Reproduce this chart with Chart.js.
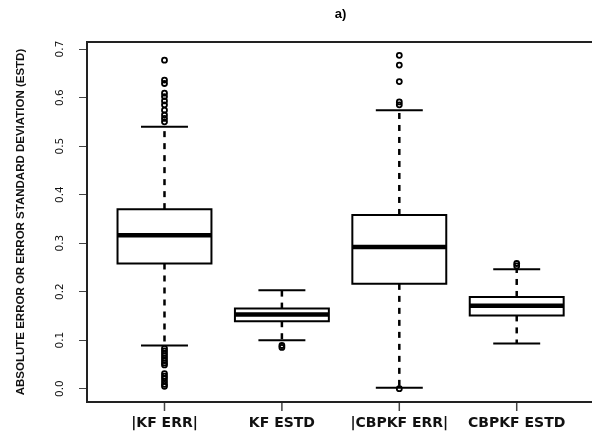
<!DOCTYPE html>
<html>
<head>
<meta charset="utf-8">
<script src="https://cdn.jsdelivr.net/npm/chart.js@4"></script>
<style>
  html, body { margin: 0; padding: 0; background: #fff; overflow: hidden; }
  #wrap { width: 600px; height: 434px; }
</style>
</head>
<body>
<div id="wrap"><canvas id="c" width="600" height="434"></canvas></div>
<script>
// ---- data ----
const categories = ['|KF ERR|', 'KF ESTD', '|CBPKF ERR|', 'CBPKF ESTD'];
const lowerWhisker  = [0.089, 0.100, 0.002, 0.093];
const lowerQuartile = [0.258, 0.139, 0.216, 0.151];
const medians       = [0.316, 0.153, 0.292, 0.171];
const upperQuartile = [0.370, 0.165, 0.358, 0.189];
const upperWhisker  = [0.540, 0.203, 0.574, 0.246];
const outliersKfErr = [0.677, 0.636, 0.629, 0.609, 0.602, 0.593, 0.585, 0.574, 0.564, 0.557, 0.550,
                       0.083, 0.078, 0.073, 0.068, 0.063, 0.058, 0.053, 0.049,
                       0.031, 0.026, 0.021, 0.015, 0.009, 0.005];
const outliersKfEstd = [0.089, 0.085];
const outliersCbpkfErr = [0.687, 0.667, 0.633, 0.591, 0.585, 0.000];
const outliersCbpkfEstd = [0.258, 0.253];
const outlierGroups = [outliersKfErr, outliersKfEstd, outliersCbpkfErr, outliersCbpkfEstd];
const yTickValues = [0.0, 0.1, 0.2, 0.3, 0.4, 0.5, 0.6, 0.7];
const chartTitle = 'a)';
const yAxisTitle = 'ABSOLUTE ERROR OR ERROR STANDARD DEVIATION (ESTD)';

// ---- styles ----
const BOX_HALF = 0.4;
const STAPLE_HALF = 0.2;
const INK = '#000';

Chart.defaults.font.family = '"Liberation Sans", Arial, sans-serif';
Chart.defaults.color = INK;

const datasets = [];

// outliers (drawn on top)
const outlierPts = [];
outlierGroups.forEach((g, i) => g.forEach(v => outlierPts.push({x: i + 1, y: v})));
datasets.push({
  type: 'scatter', data: outlierPts,
  pointStyle: 'circle', pointRadius: 2.5, pointBorderWidth: 1.8,
  pointBorderColor: INK, pointBackgroundColor: 'rgba(0,0,0,0)', showLine: false
});

// medians
categories.forEach((c, i) => {
  const x = i + 1;
  datasets.push({
    type: 'line', data: [{x: x - BOX_HALF, y: medians[i]}, {x: x + BOX_HALF, y: medians[i]}],
    borderColor: INK, borderWidth: 4.5, pointRadius: 0, borderCapStyle: 'butt'
  });
});

// boxes (closed rectangles from Q1 to Q3)
categories.forEach((c, i) => {
  const x = i + 1;
  const a = x - BOX_HALF, b = x + BOX_HALF;
  datasets.push({
    type: 'line',
    data: [{x: a, y: lowerQuartile[i]}, {x: b, y: lowerQuartile[i]}, {x: b, y: upperQuartile[i]},
           {x: a, y: upperQuartile[i]}, {x: a, y: lowerQuartile[i]}, {x: b, y: lowerQuartile[i]}],
    borderColor: INK, borderWidth: 2, pointRadius: 0, fill: false,
    borderJoinStyle: 'miter', borderCapStyle: 'square'
  });
});

// staples
categories.forEach((c, i) => {
  const x = i + 1;
  [lowerWhisker[i], upperWhisker[i]].forEach(v => {
    datasets.push({
      type: 'line', data: [{x: x - STAPLE_HALF, y: v}, {x: x + STAPLE_HALF, y: v}],
      borderColor: INK, borderWidth: 2, pointRadius: 0
    });
  });
});

// dashed whiskers
categories.forEach((c, i) => {
  const x = i + 1;
  datasets.push({
    type: 'line', data: [{x: x, y: upperQuartile[i]}, {x: x, y: upperWhisker[i]}],
    borderColor: INK, borderWidth: 2.5, borderDash: [6, 6], pointRadius: 0
  });
  datasets.push({
    type: 'line', data: [{x: x, y: lowerQuartile[i]}, {x: x, y: lowerWhisker[i]}],
    borderColor: INK, borderWidth: 2.5, borderDash: [6, 6], pointRadius: 0
  });
});

const framePlugin = {
  id: 'frame',
  afterDraw(chart) {
    const {ctx, chartArea: a} = chart;
    const xs = chart.scales.x;
    ctx.save();
    // x-axis tick marks at each category position (from the x scale)
    ctx.strokeStyle = '#444';
    ctx.lineWidth = 1.5;
    categories.forEach((c, i) => {
      const px = xs.getPixelForValue(i + 1);
      ctx.beginPath();
      ctx.moveTo(px, a.bottom + 1);
      ctx.lineTo(px, a.bottom + 9);
      ctx.stroke();
    });
    // plot frame
    ctx.strokeStyle = '#222';
    ctx.lineWidth = 2;
    ctx.strokeRect(a.left, a.top, a.right - a.left, a.bottom - a.top);
    // title
    ctx.fillStyle = INK;
    ctx.font = 'bold 13px "Liberation Sans", Arial, sans-serif';
    ctx.textAlign = 'center';
    ctx.textBaseline = 'middle';
    ctx.fillText(chartTitle, (a.left + a.right) / 2, 14);
    ctx.restore();
  }
};

new Chart(document.getElementById('c'), {
  type: 'scatter',
  data: { datasets },
  options: {
    responsive: false,
    animation: false,
    events: [],
    layout: { padding: { top: 42, right: 1, left: 0, bottom: 0 } },
    plugins: { legend: { display: false }, tooltip: { enabled: false }, title: { display: false } },
    scales: {
      x: {
        type: 'linear', min: 0.34, max: 4.66, offset: false,
        afterBuildTicks: s => { s.ticks = categories.map((c, i) => ({value: i + 1})); },
        afterFit: s => { s.height = 32; },
        ticks: {
          callback: (v, idx) => categories[idx],
          autoSkip: false, maxRotation: 0, minRotation: 0, padding: 6,
          font: { family: '"DejaVu Sans", sans-serif', size: 14, weight: 'bold' }, color: '#111'
        },
        grid: { display: false, drawOnChartArea: false, drawTicks: true, tickLength: 7 },
        border: { display: false }
      },
      y: {
        type: 'linear', min: -0.0275, max: 0.7145,
        afterBuildTicks: s => { s.ticks = yTickValues.map(v => ({value: v})); },
        afterFit: s => { s.width = 87; },
        ticks: {
          callback: v => Number(v).toFixed(1),
          autoSkip: false, minRotation: 90, maxRotation: 90, crossAlign: 'center', padding: 10,
          font: { family: '"DejaVu Sans", sans-serif', size: 10.5 }, color: '#111'
        },
        title: {
          display: true, text: yAxisTitle, color: '#111',
          font: { size: 11.5, weight: 'bold' }, padding: { top: 14, bottom: 0 }
        },
        grid: { display: true, drawOnChartArea: false, drawTicks: true, tickLength: 8, tickWidth: 1, tickColor: '#444' },
        border: { display: false }
      }
    }
  },
  plugins: [framePlugin]
});
</script>
</body>
</html>
